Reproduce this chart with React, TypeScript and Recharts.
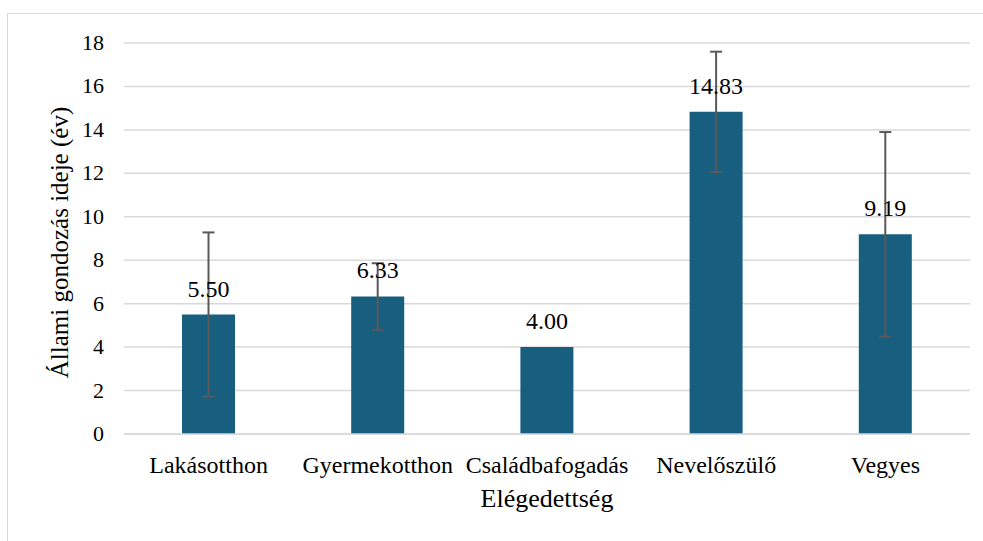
import React from 'react';
import {
    BarChart,
    Bar,
    XAxis,
    YAxis,
    CartesianGrid,
    ErrorBar,
    LabelList,
} from 'recharts';

const categories = ['Lakásotthon', 'Gyermekotthon', 'Családbafogadás', 'Nevelőszülő', 'Vegyes'];
const means = [5.5, 6.33, 4.0, 14.83, 9.19];
const errors = [3.78, 1.53, 0, 2.77, 4.71];
const yTicks = [0, 2, 4, 6, 8, 10, 12, 14, 16, 18];

const data = categories.map((name, i) => ({ name, value: means[i], err: errors[i] }));

const FONT = 'Liberation Serif';

function XTick(props: any) {
    const { x, y, payload } = props;
    return (
        <text x={x} y={y + 37} textAnchor="middle" fill="#000" fontFamily={FONT} fontSize={24}>
            {payload.value}
        </text>
    );
}

function YTick(props: any) {
    const { x, y, payload } = props;
    return (
        <text x={x} y={y + 7} textAnchor="end" fill="#000" fontFamily={FONT} fontSize={22}>
            {payload.value}
        </text>
    );
}

function ValueLabel(props: any) {
    const { x, y, width, value } = props;
    return (
        <text x={x + width / 2} y={y - 18} textAnchor="middle" fill="#000" fontFamily={FONT} fontSize={24}>
            {Number(value).toFixed(2)}
        </text>
    );
}

function XTitle(props: any) {
    const { viewBox } = props;
    return (
        <text
            x={viewBox.x + viewBox.width / 2}
            y={viewBox.y + 73}
            textAnchor="middle"
            fill="#000"
            fontFamily={FONT}
            fontSize={26}
        >
            Elégedettség
        </text>
    );
}

function YTitle(props: any) {
    const { viewBox } = props;
    const cx = 68;
    const cy = viewBox.y + viewBox.height / 2 + 4;
    return (
        <text
            x={cx}
            y={cy}
            transform={`rotate(-90 ${cx} ${cy})`}
            textAnchor="middle"
            fill="#000"
            fontFamily={FONT}
            fontSize={25}
        >
            Állami gondozás ideje (év)
        </text>
    );
}

function App() {
    return (
        <div
            style={{
                position: 'absolute',
                left: 0,
                top: 0,
                width: 983,
                height: 541,
                overflow: 'hidden',
                background: '#fff',
                fontFamily: FONT,
            }}
        >
            <div
                style={{
                    position: 'absolute',
                    left: 7,
                    top: 13,
                    width: 1000,
                    height: 600,
                    border: '1px solid #d9d9d9',
                }}
            />
            <div style={{ position: 'absolute', left: 0, top: 0 }}>
                <BarChart
                    width={983}
                    height={541}
                    data={data}
                    margin={{ top: 43, right: 13, bottom: 0, left: 0 }}
                >
                    <CartesianGrid vertical={false} stroke="#d9d9d9" strokeWidth={1.5} />
                    <XAxis
                        dataKey="name"
                        height={107}
                        tickLine={false}
                        tickSize={0}
                        axisLine={{ stroke: '#d9d9d9', strokeWidth: 1.5 }}
                        tick={<XTick />}
                        label={<XTitle />}
                    />
                    <YAxis
                        width={124}
                        domain={[0, 18]}
                        ticks={yTicks}
                        interval={0}
                        axisLine={false}
                        tickLine={false}
                        tickSize={0}
                        tickMargin={20}
                        tick={<YTick />}
                        label={<YTitle />}
                    />
                    <Bar dataKey="value" fill="#175e7f" barSize={53} isAnimationActive={false}>
                        <LabelList dataKey="value" content={<ValueLabel />} />
                        <ErrorBar
                            dataKey="err"
                            width={6}
                            stroke="#595959"
                            strokeWidth={2}
                            direction="y"
                        />
                    </Bar>
                </BarChart>
            </div>
        </div>
    );
}

export default App;
